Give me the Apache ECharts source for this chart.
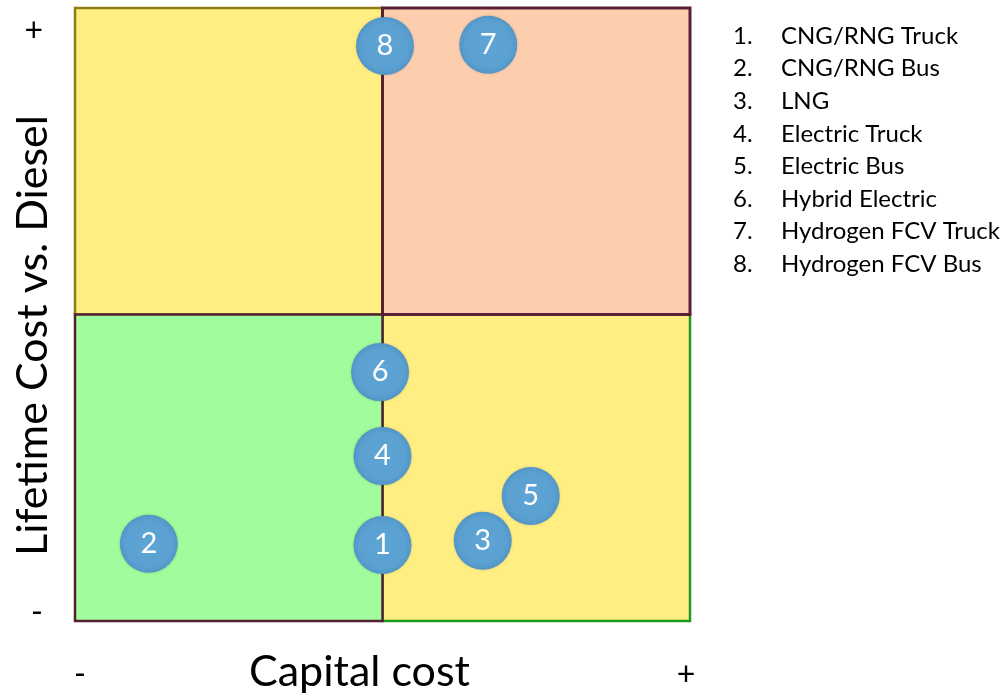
<!DOCTYPE html>
<html>
<head>
<meta charset="utf-8">
<script src="https://cdn.jsdelivr.net/npm/echarts@6/dist/echarts.min.js"></script>
<style>
  html, body { margin: 0; padding: 0; background: #fff; }
  #main { width: 1002px; height: 696px; }
</style>
</head>
<body>
<div id="main"></div>
<script>
// 技术编号 / 名称
var techIds = [1, 2, 3, 4, 5, 6, 7, 8];
var techNames = ['CNG/RNG Truck', 'CNG/RNG Bus', 'LNG', 'Electric Truck', 'Electric Bus',
                 'Hybrid Electric', 'Hydrogen FCV Truck', 'Hydrogen FCV Bus'];
// capital cost (0..10), lifetime cost (0..10)
var capitalCost = [5.0, 1.2, 6.63, 5.0, 7.41, 4.96, 6.72, 5.04];
var lifetimeCost = [1.24, 1.26, 1.31, 2.69, 2.04, 4.06, 9.40, 9.38];
var xTicks = ['-', '+'];
var yTicks = ['-', '+'];

var font = 'Lato, "Open Sans", sans-serif';
var myChart = echarts.init(document.getElementById('main'));

var points = techIds.map(function(id, i) {
    return [capitalCost[i], lifetimeCost[i], id];
});

var bubbleColor = {
    type: 'radial', x: 0.5, y: 0.5, r: 0.5,
    colorStops: [
        { offset: 0, color: '#5ea5d6' },
        { offset: 0.8, color: '#5aa0d0' },
        { offset: 1, color: '#5296c6' }
    ]
};

var option = {
    animation: false,
    grid: { left: 75, top: 8, width: 615, height: 613, outerBoundsMode: 'none', containLabel: false },
    xAxis: {
        type: 'value', min: 0, max: 10, interval: 10,
        name: 'Capital cost', nameLocation: 'middle', nameGap: 30, nameMoveOverlap: false,
        nameTextStyle: { fontFamily: font, fontSize: 43, color: '#000', padding: [0, 46, 0, 0] },
        axisLine: { show: false }, axisTick: { show: false }, splitLine: { show: false },
        axisLabel: {
            margin: 38, fontFamily: font, color: '#000',
            formatter: function(v) { return v === 0 ? '{lo|' + xTicks[0] + '}' : '{hi|' + xTicks[1] + '}'; },
            rich: {
                lo: { fontFamily: font, fontSize: 32, padding: [0, 0, 0, 10] },
                hi: { fontFamily: font, fontSize: 32, padding: [0, 8, 0, 0] }
            }
        }
    },
    yAxis: {
        type: 'value', min: 0, max: 10, interval: 10,
        name: 'Lifetime Cost vs. Diesel', nameLocation: 'middle', nameGap: 20, nameMoveOverlap: false,
        nameTextStyle: { fontFamily: font, fontSize: 43, color: '#000', padding: [0, 42, 0, 0] },
        axisLine: { show: false }, axisTick: { show: false }, splitLine: { show: false },
        axisLabel: {
            margin: 32, fontFamily: font, color: '#000',
            formatter: function(v) { return v === 0 ? '{lo|' + yTicks[0] + '}' : '{hi|' + yTicks[1] + '}'; },
            rich: {
                lo: { fontFamily: font, fontSize: 32, padding: [0, 0, 16, 0] },
                hi: { fontFamily: font, fontSize: 32, padding: [46, 0, 0, 0] }
            }
        }
    },
    graphic: techNames.map(function(name, i) {
        return {
            type: 'group', left: 733, top: 24 + i * 32.6,
            children: [
                { type: 'text', x: 0, y: 0, style: { text: techIds[i] + '.', font: '24px ' + font, fill: '#000' } },
                { type: 'text', x: 48, y: 0, style: { text: name, font: '24px ' + font, fill: '#000' } }
            ]
        };
    }),
    series: [{
        type: 'scatter',
        data: points,
        symbolSize: 58,
        itemStyle: {
            color: bubbleColor, opacity: 1,
            shadowColor: 'rgba(0,0,0,0.15)', shadowBlur: 3
        },
        label: {
            show: true, position: 'inside', color: '#fff',
            fontFamily: font, fontSize: 29,
            formatter: function(p) { return p.value[2]; }
        },
        z: 10,
        markArea: {
            silent: true,
            data: [
                [{ coord: [5, 0], itemStyle: { color: '#FFEE82', borderColor: '#1e9a1e', borderWidth: 2.5, opacity: 1 } }, { coord: [10, 5] }],
                [{ coord: [0, 5], itemStyle: { color: '#FFEE82', borderColor: '#8f7d14', borderWidth: 2.5, opacity: 1 } }, { coord: [5, 10] }],
                [{ coord: [5, 5], itemStyle: { color: '#FDCEAE', borderColor: '#5a1e36', borderWidth: 3, opacity: 1 } }, { coord: [10, 10] }],
                [{ coord: [0, 0], itemStyle: { color: '#A0FC9C', borderColor: '#54202f', borderWidth: 2.5, opacity: 1 } }, { coord: [5, 5] }]
            ]
        }
    }]
};

myChart.setOption(option);
</script>
</body>
</html>
